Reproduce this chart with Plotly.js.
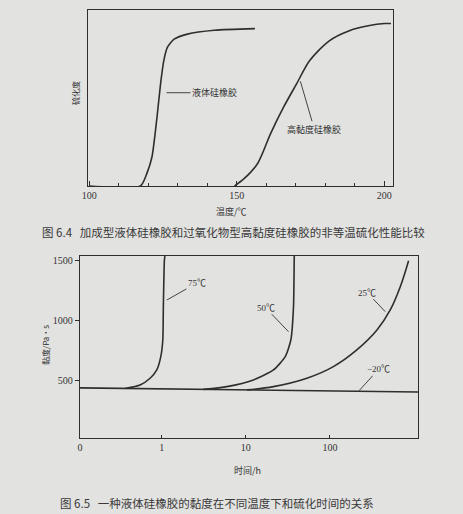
<!DOCTYPE html>
<html>
<head>
<meta charset="utf-8">
<script src="https://cdn.plot.ly/plotly-3.0.1.min.js"></script>
<style>html,body{margin:0;padding:0;background:#e2e2e0;}#chart{width:463px;height:514px;}</style>
</head>
<body>
<div id="chart"></div>
<script>
// ---- Figure 6.4: degree of cure vs temperature ----
const lsrTemp = [100, 117.4, 119.6, 121.3, 123.0, 124.2, 125.3, 126.5, 128.8, 133.3, 142.5, 156.2];
const lsrCure = [0, 0, 7.3, 16.6, 39.2, 58.0, 71.2, 78.7, 83.4, 86.3, 88.5, 89.4];
const hcrTemp = [149.3, 152.6, 157.1, 161.5, 165.9, 170.3, 174.7, 181.4, 188.0, 194.6, 200.1, 202.3];
const hcrCure = [0, 4.3, 12.8, 29.8, 44.8, 58.0, 71.2, 82.5, 88.1, 91.0, 92.3, 92.3];
const topTickVals = [100, 150, 200];
const topMinorTicks = [110, 120, 130, 140, 160, 170, 180, 190];

// ---- Figure 6.5: viscosity vs time at different temperatures ----
const timeTickVals = [0.1064, 1, 10, 100];
const timeTickText = ["0", "1", "10", "100"];
const viscTickVals = [500, 1000, 1500];
const t75 = [0.366, 0.552, 0.726, 0.872, 0.973, 1.028, 1.044, 1.074, 1.09];
const v75 = [435, 464, 520, 589, 700, 839, 1117, 1506, 1539];
const t50 = [3.13, 5.94, 12.3, 21.3, 29.4, 34.3, 36.9, 37.6, 37.7];
const v50 = [427, 450, 506, 589, 700, 839, 1117, 1506, 1539];
const t25 = [10.3, 21.3, 53.2, 110, 209, 363, 522, 687, 863];
const v25 = [423, 450, 520, 617, 756, 922, 1089, 1283, 1500];
const tm20 = [0.1064, 1, 10, 100, 1117];
const vm20 = [440, 432, 423, 414, 405];

const lineColor = '#2e2e2e';
const fontFam = 'Liberation Serif, Noto Sans CJK SC, serif';
const cjk = 'Noto Sans CJK SC, Liberation Serif, sans-serif';

function line(x, y, xa, ya, name, sm) {
  return {x: x, y: y, xaxis: xa, yaxis: ya, type: 'scatter', mode: 'lines', name: name,
          line: {color: lineColor, width: 1.6, shape: 'spline', smoothing: sm}, hoverinfo: 'skip'};
}

const data = [
  line(lsrTemp, lsrCure, 'x', 'y', '液体硅橡胶', 0.6),
  line(hcrTemp, hcrCure, 'x', 'y', '高黏度硅橡胶', 0.8),
  line(t75, v75, 'x2', 'y2', '75℃', 0.6),
  line(t50, v50, 'x2', 'y2', '50℃', 0.6),
  line(t25, v25, 'x2', 'y2', '25℃', 1.0),
  {x: tm20, y: vm20, xaxis: 'x2', yaxis: 'y2', type: 'scatter', mode: 'lines', name: '−20℃',
   line: {color: lineColor, width: 1.6}, hoverinfo: 'skip'}
];

const W = 463, H = 514;
const dx = (a, b) => [a / W, b / W];
const dy = (top, bottom) => [(H - bottom) / H, (H - top) / H];

const axBase = {showline: true, linecolor: lineColor, linewidth: 1.2, mirror: true,
  showgrid: false, zeroline: false, tickfont: {family: fontFam, size: 10, color: '#333'}};

function note(o) {
  return Object.assign({xanchor: 'center', yanchor: 'middle'}, o);
}

const layout = {
  width: W, height: H,
  margin: {l: 0, r: 0, t: 0, b: 0},
  paper_bgcolor: '#e2e2e0', plot_bgcolor: '#e2e2e0',
  showlegend: false,
  xaxis: Object.assign({}, axBase, {domain: dx(88, 393), anchor: 'y', range: [99.6, 203.0],
    tickmode: 'array', tickvals: topTickVals, ticks: 'inside', ticklen: 5, tickcolor: lineColor,
    minor: {tickmode: 'array', tickvals: topMinorTicks, ticks: 'inside', ticklen: 3, tickcolor: lineColor}}),
  yaxis: Object.assign({}, axBase, {domain: dy(10, 186), anchor: 'x', range: [0, 100],
    showticklabels: false, ticks: ''}),
  xaxis2: Object.assign({}, axBase, {domain: dx(80, 418), anchor: 'y2', type: 'log',
    range: [-0.973, 3.048], tickmode: 'array', tickvals: timeTickVals, ticktext: timeTickText,
    ticks: 'inside', ticklen: 3, tickcolor: lineColor}),
  yaxis2: Object.assign({}, axBase, {domain: dy(256, 438), anchor: 'x2', range: [22, 1539],
    tickmode: 'array', tickvals: viscTickVals, ticks: 'outside', ticklen: 4, tickcolor: lineColor}),
  annotations: [
    // top chart axis titles
    note({text: '硫化度', xref: 'paper', yref: 'paper', x: 75 / W, y: (H - 93) / H, showarrow: false,
     textangle: -90, font: {family: cjk, size: 8, color: '#333'}}),
    note({text: '温度/℃', xref: 'paper', yref: 'paper', x: 232 / W, y: (H - 211) / H, showarrow: false,
     font: {family: cjk, size: 9, color: '#333'}}),
    // curve labels top
    note({text: '液体硅橡胶', xref: 'x', yref: 'y', x: 126.2, y: 53, ax: 48, ay: 0, showarrow: true,
     arrowhead: 0, arrowwidth: 1, arrowcolor: '#444', font: {family: cjk, size: 9, color: '#333'}}),
    note({text: '高黏度硅橡胶', xref: 'x', yref: 'y', x: 171.6, y: 59.5, ax: 14, ay: 48, showarrow: true,
     arrowhead: 0, arrowwidth: 1, arrowcolor: '#444', font: {family: cjk, size: 9, color: '#333'}}),
    // caption 1
    note({text: '图 6.4   加成型液体硅橡胶和过氧化物型高黏度硅橡胶的非等温硫化性能比较', xref: 'paper', yref: 'paper',
     x: 40 / W, y: (H - 232) / H, xanchor: 'left', showarrow: false, font: {family: cjk, size: 11.5, color: '#3a3a3a'}}),
    // bottom chart axis titles
    note({text: '黏度/Pa·s', xref: 'paper', yref: 'paper', x: 45 / W, y: (H - 345) / H, showarrow: false,
     textangle: -90, font: {family: cjk, size: 8, color: '#333'}}),
    note({text: '时间/h', xref: 'paper', yref: 'paper', x: 247 / W, y: (H - 470) / H, showarrow: false,
     font: {family: cjk, size: 9, color: '#333'}}),
    // curve labels bottom
    note({text: '75℃', xref: 'x2', yref: 'y2', x: Math.log10(1.148), y: 1172, ax: 30, ay: -17, showarrow: true,
     arrowhead: 0, arrowwidth: 1, arrowcolor: '#444', font: {family: fontFam, size: 9, color: '#333'}}),
    note({text: '50℃', xref: 'x2', yref: 'y2', x: Math.log10(32.2), y: 908, ax: -23, ay: -24, showarrow: true,
     arrowhead: 0, arrowwidth: 1, arrowcolor: '#444', font: {family: fontFam, size: 9, color: '#333'}}),
    note({text: '25℃', xref: 'x2', yref: 'y2', x: Math.log10(455), y: 1075, ax: -18, ay: -19, showarrow: true,
     arrowhead: 0, arrowwidth: 1, arrowcolor: '#444', font: {family: fontFam, size: 9, color: '#333'}}),
    note({text: '−20℃', xref: 'x2', yref: 'y2', x: Math.log10(219), y: 411, ax: 20, ay: -22, showarrow: true,
     arrowhead: 0, arrowwidth: 1, arrowcolor: '#444', font: {family: fontFam, size: 9, color: '#333'}}),
    // caption 2
    note({text: '图 6.5   一种液体硅橡胶的黏度在不同温度下和硫化时间的关系', xref: 'paper', yref: 'paper',
     x: 58 / W, y: (H - 503) / H, xanchor: 'left', showarrow: false, font: {family: cjk, size: 11.5, color: '#3a3a3a'}})
  ]
};

Plotly.newPlot('chart', data, layout, {staticPlot: true, displayModeBar: false});
</script>
</body>
</html>
